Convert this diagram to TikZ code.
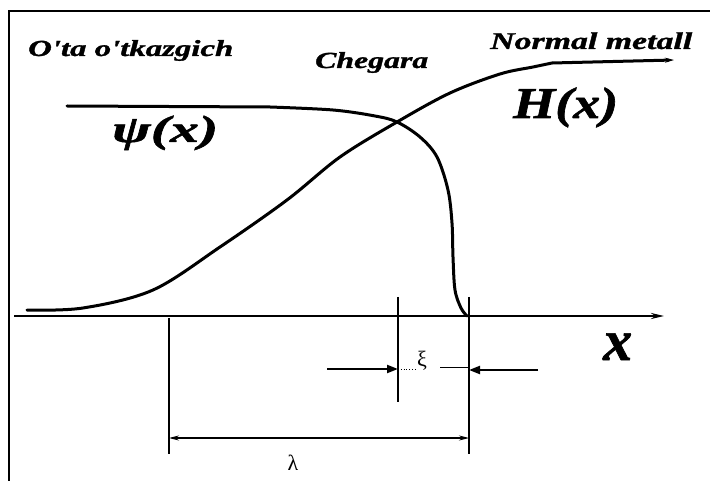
\documentclass[tikz,border=0pt]{standalone}
\usepackage{fontspec}
\setmainfont{Liberation Serif}[BoldFont={Liberation Serif Bold}, ItalicFont={Liberation Serif Italic}, BoldItalicFont={Liberation Serif Bold Italic}]
\usetikzlibrary{arrows.meta}
\tikzset{
  lbl/.style={inner sep=0pt, anchor=base west, font=\bfseries\itshape\addfontfeature{FakeBold=1.2}},
  curve/.style={line width=3pt, line cap=round, line join=round},
  thin/.style={line width=1.2pt},
  dimarrow/.style={line width=1.2pt, {Stealth[length=10pt,width=5pt]}-{Stealth[length=10pt,width=5pt]}},
  xiarrow/.style={line width=2.2pt, -{Triangle[length=11pt,width=8pt]}},
}
\begin{document}
\begin{tikzpicture}[x=1pt,y=-1pt]
\useasboundingbox (0,0) rectangle (710,481);
\fill[white] (0,0) rectangle (710,481);
% frame
\draw[line width=1.5pt] (9,490) -- (9,11) -- (720,11);

% labels
\node[lbl] (sup) at (28,56) {\resizebox{205pt}{\height}{\fontsize{23}{23}\selectfont O\textquotesingle ta o\textquotesingle tkazgich}};
\node[lbl] (cheg) at (315,68) {\resizebox{113pt}{\height}{\fontsize{23}{23}\selectfont Chegara}};
\node[lbl] (norm) at (490,49) {\resizebox{202pt}{\height}{\fontsize{24}{24}\selectfont Normal metall}};
\node[lbl] (psi) at (112,142) {\resizebox{106pt}{\height}{\fontsize{38}{38}\selectfont ψ(x)}};
\node[lbl] (hx) at (513,118) {\resizebox{105pt}{\height}{\fontsize{44}{44}\selectfont H(x)}};
\node[lbl] (xl) at (603,360) {\fontsize{58}{58}\selectfont x};

% axis
\coordinate (ax0) at (14,316);
\coordinate (ax1) at (664,316);
\draw[line width=2.2pt, -{Stealth[length=13pt,width=6pt]}] (ax0) -- (ax1);

% H(x) curve
\draw[curve] plot[smooth, tension=0.55] coordinates {(27,310) (83,308) (153,290) (220,247) (287,200) (340,157) (397,122) (450,93) (500,74) (533,67) (552,63)};
\coordinate (h0) at (552,63);
\coordinate (h1) at (674,60);
\draw[line width=3pt, -{Stealth[length=9pt,width=5pt]}] (h0) -- (h1);

% psi curve
\draw[curve] (67,106) -- (270,107) plot[smooth, tension=0.55] coordinates {(270,107) (333,110) (375,116) (397,122) (420,137) (437,157) (448,190) (452,223) (453,257) (455,290) (461,308) (467,316)};

% dimension lines
\coordinate (xiA) at (398,297);
\coordinate (xiB) at (398,402);
\coordinate (rA) at (469,297);
\coordinate (rB) at (469,454);
\coordinate (lA) at (169,318);
\coordinate (lB) at (169,454);
\draw[thin] (xiA) -- (xiB);
\draw[thin] (rA) -- (rB);
\draw[thin] (lA) -- (lB);

% lambda
\coordinate (la) at (169,438);
\coordinate (lb) at (469,438);
\draw[dimarrow] (la) -- (lb);
\node[inner sep=0pt] (lam) at (293,463) {\fontsize{22}{22}\selectfont λ};

% xi
\coordinate (xl0) at (327,369);
\coordinate (xl1) at (398,369);
\coordinate (xr0) at (538,370);
\coordinate (xr1) at (469,370);
\draw[xiarrow] (xl0) -- (xl1);
\draw[xiarrow] (xr0) -- (xr1);
\node[inner sep=0pt] (xi) at (422,361) {\fontsize{22}{22}\selectfont ξ};
\draw[line width=0.8pt, dotted] (xl1) -- (xi.west |- xl1);
\coordinate (xt1) at (440,367);
\coordinate (xt2) at (469,367);
\draw[line width=1pt] (xt1) -- (xt2);
\end{tikzpicture}
\end{document}
